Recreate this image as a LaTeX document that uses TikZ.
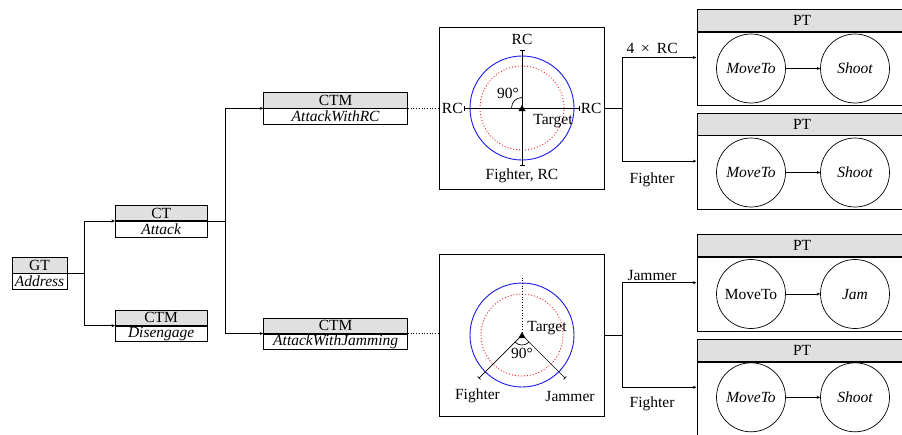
\documentclass[tikz,border=0pt]{standalone}
\usepackage{fontspec}
\setmainfont{Liberation Serif}
\usetikzlibrary{arrows.meta,fit}
\newcommand\dsize{\fontsize{15.5}{18}\selectfont}
\definecolor{hdrgray}{RGB}{224,224,224}
\definecolor{ringblue}{RGB}{25,25,235}
\definecolor{ringred}{RGB}{232,35,35}
\begin{document}
\begin{tikzpicture}[x=1pt,y=1pt,
  line width=0.7pt,
  hdr/.style={draw, fill=hdrgray, minimum width=#1, minimum height=15.3pt, inner sep=0pt, anchor=south west, font=\dsize},
  bdy/.style={draw, minimum width=#1, minimum height=15.7pt, inner sep=0pt, anchor=north west, font=\dsize\itshape},
  link/.style={-{Stealth[length=3.5pt,width=3pt]}},
  lbl/.style={inner sep=0pt, font=\dsize},
  scene/.style={draw, minimum width=165pt, minimum height=162pt, inner sep=0pt},
  ptH/.style={draw, fill=hdrgray, minimum width=210pt, minimum height=22pt, inner sep=0pt, anchor=north west, font=\dsize},
  ptB/.style={draw, minimum width=210pt, minimum height=73.5pt, inner sep=0pt, anchor=north west},
  act/.style={draw, circle, minimum size=69pt, inner sep=0pt, font=\dsize\itshape},
  ring/.style={ringblue, line width=0.9pt},
  zone/.style={ringred, line width=0.85pt, dash pattern=on 1pt off 2pt},
  axis/.style={{Bar[width=5pt]}-{Bar[width=5pt]}},
  ray/.style={-{Bar[width=4pt]}},
  marker/.style={fill=black, draw=none},
]
\useasboundingbox (0,0) rectangle (902,-434);

% ---- task tree on the left ----
\node[hdr=55pt] (gtH) at (11.7,-273.3) {GT};
\node[bdy=55pt] (gtB) at (gtH.south west) {Address};

\node[hdr=91.7pt] (ctH) at (115,-221) {CT};
\node[bdy=91.7pt] (ctB) at (ctH.south west) {Attack};

\node[hdr=91.7pt] (disH) at (115,-325.7) {CTM};
\node[bdy=91.7pt] (disB) at (disH.south west) {Disengage};

\node[hdr=144pt] (rcH) at (263.3,-108.3) {CTM};
\node[bdy=144pt] (rcB) at (rcH.south west) {AttackWithRC};

\node[hdr=144pt] (jamH) at (263.3,-333.5) {CTM};
\node[bdy=144pt] (jamB) at (jamH.south west) {AttackWithJamming};

\draw (gtH.south east) -- ++(17.3,0) coordinate (j1);
\draw[link] (j1) |- (ctH.south west);
\draw[link] (j1) |- (disH.south west);

\draw (ctH.south east) -- ++(18.3,0) coordinate (j2);
\draw[link] (j2) |- (rcH.south west);
\draw[link] (j2) |- (jamH.south west);

% ---- formation scenes ----
\node[scene] (sc1) at (522,-108) {};
\node[scene] (sc2) at (522,-335) {};
\draw[dotted] (rcH.south east) -- (rcH.south east -| sc1.west);
\draw[dotted] (jamH.south east) -- (jamH.south east -| sc2.west);

% scene 1: four relay carriers around the target
\coordinate (t1) at (sc1.center);
\draw[ring] (t1) circle[radius=52pt];
\draw[zone] (t1) circle[radius=42pt];
\draw[axis] ([xshift=-58pt]t1) coordinate (aL) -- ([xshift=58pt]t1) coordinate (aR);
\draw[axis] ([yshift=-58pt]t1) coordinate (aB) -- ([yshift=58pt]t1) coordinate (aT);
\draw ([yshift=10.5pt]t1) arc[start angle=90, end angle=180, radius=10.5pt];
\fill[marker] ([yshift=3pt]t1) -- ([shift={(-3.5pt,-3pt)}]t1) -- ([shift={(3.5pt,-3pt)}]t1) -- cycle;
\node[lbl, anchor=east] (rcW) at ([xshift=-1pt]aL) {RC};
\node[lbl, anchor=west] (rcE) at ([xshift=0.5pt]aR) {RC};
\node[lbl] (rcN) at ([yshift=69pt]t1) {RC};
\node[lbl] (rcS) at ([yshift=-68pt]t1) {Fighter, RC};
\node[lbl] (ang1) at ([shift={(-14pt,15pt)}]t1) {90°};
\node[lbl] (tg1) at ([shift={(31pt,-13pt)}]t1) {Target};

% scene 2: fighter and jammer approach
\coordinate (t2) at (sc2.center);
\draw[ring] (t2) circle[radius=52pt];
\draw[zone] (t2) circle[radius=41pt];
\draw[dotted] (t2) -- ([yshift=58pt]t2) coordinate (aU);
\draw[ray] (t2) -- ++(225:61pt) coordinate (aF);
\draw[ray] (t2) -- ++(-45:61pt) coordinate (aJ);
\draw ([shift={(225:10pt)}]t2) arc[start angle=225, end angle=315, radius=10pt];
\fill[marker] ([yshift=3pt]t2) -- ([shift={(-3.5pt,-3pt)}]t2) -- ([shift={(3.5pt,-3pt)}]t2) -- cycle;
\node[lbl] (tg2) at ([shift={(25pt,7pt)}]t2) {Target};
\node[lbl] (ang2) at ([shift={(0pt,-18pt)}]t2) {90°};
\node[lbl] (fi2) at ([shift={(-44.5pt,-61pt)}]t2) {Fighter};
\node[lbl] (ja2) at ([shift={(48pt,-61pt)}]t2) {Jammer};

% ---- primitive tasks on the right ----
\node[ptH] (p1H) at (696.7,-9) {PT};
\node[ptB] (p1B) at (p1H.south west) {};
\node[fit=(p1H)(p1B), inner sep=0pt] (p1) {};
\node[act] (p1m) at (751,-68.5) {MoveTo};
\node[act] (p1s) at (855,-68.5) {Shoot};
\draw[link] (p1m) -- (p1s);

\node[ptH] (p2H) at (696.7,-112.7) {PT};
\node[ptB] (p2B) at (p2H.south west) {};
\node[fit=(p2H)(p2B), inner sep=0pt] (p2) {};
\node[act] (p2m) at (751,-172.5) {MoveTo};
\node[act] (p2s) at (855,-172.5) {Shoot};
\draw[link] (p2m) -- (p2s);

\node[ptH] (p3H) at (696.7,-234.3) {PT};
\node[ptB] (p3B) at (p3H.south west) {};
\node[fit=(p3H)(p3B), inner sep=0pt] (p3) {};
\node[act, font=\dsize\upshape] (p3m) at (751,-294) {MoveTo};
\node[act] (p3s) at (855,-294) {Jam};
\draw[link] (p3m) -- (p3s);

\node[ptH] (p4H) at (696.7,-338.8) {PT};
\node[ptB] (p4B) at (p4H.south west) {};
\node[fit=(p4H)(p4B), inner sep=0pt] (p4) {};
\node[act] (p4m) at (751,-397.3) {MoveTo};
\node[act] (p4s) at (855,-397.3) {Shoot};
\draw[link] (p4m) -- (p4s);

\draw (sc1.east) -- ++(17.7,0) coordinate (j3);
\draw[link] (j3) |- node[lbl, pos=0.7, above=3.4pt] {4\hspace{0.45em}×\hspace{0.45em}RC} (p1.west);
\draw[link] (j3) |- node[lbl, pos=0.7, below=11pt] {Fighter} (p2.west);

\draw (sc2.east) -- ++(17.7,0) coordinate (j4);
\draw[link] (j4) |- node[lbl, pos=0.7, above=2pt] {Jammer} (p3.west);
\draw[link] (j4) |- node[lbl, pos=0.7, below=9.5pt] {Fighter} (p4.west);
\end{tikzpicture}
\end{document}
